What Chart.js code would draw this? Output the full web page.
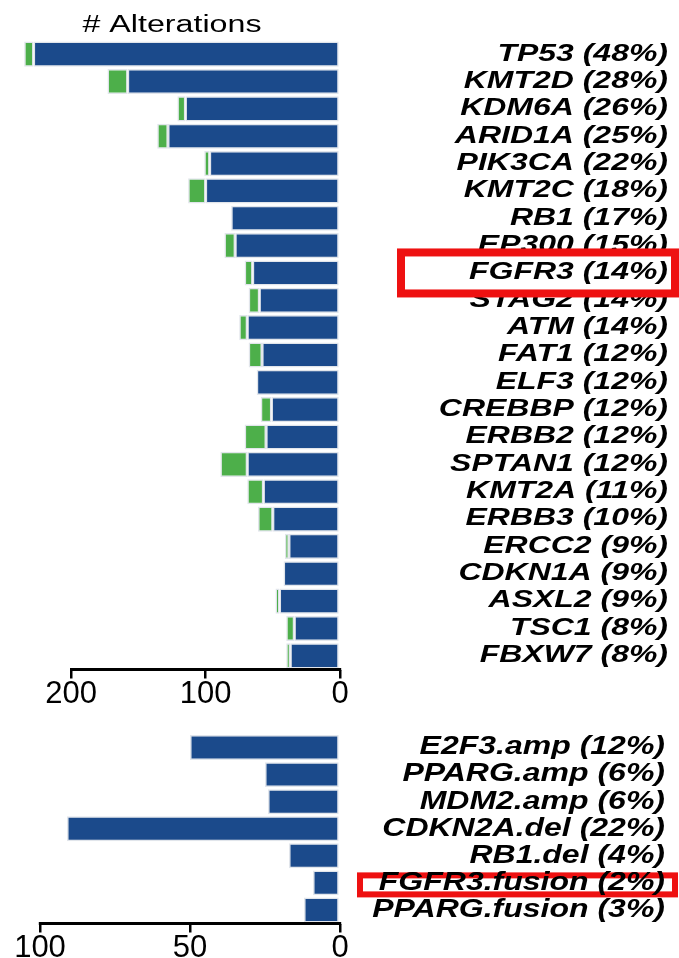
<!DOCTYPE html>
<html>
<head>
<meta charset="utf-8">
<script src="https://cdn.jsdelivr.net/npm/chart.js@4"></script>
<style>
  body { margin: 0; background: #fff; }
  #wrap { position: relative; width: 679px; height: 958px; }
  canvas { position: absolute; left: 0; }
  #top { top: 0; }
  #bottom { top: 700px; }
</style>
</head>
<body>
<div id="wrap">
  <canvas id="top" width="679" height="710"></canvas>
  <canvas id="bottom" width="679" height="258"></canvas>
</div>
<script>
// mutated genes: main (blue) and additional (green) alteration counts
const genes = ['TP53', 'KMT2D', 'KDM6A', 'ARID1A', 'PIK3CA', 'KMT2C', 'RB1', 'EP300', 'FGFR3', 'STAG2',
  'ATM', 'FAT1', 'ELF3', 'CREBBP', 'ERBB2', 'SPTAN1', 'KMT2A', 'ERBB3', 'ERCC2', 'CDKN1A', 'ASXL2', 'TSC1', 'FBXW7'];
const genePct = [48, 28, 26, 25, 22, 18, 17, 15, 14, 14, 14, 12, 12, 12, 12, 12, 11, 10, 9, 9, 9, 8, 8];
const geneMain = [228, 158, 115, 128, 97, 100, 81, 78, 65, 60, 69, 58, 62, 51, 55, 69, 57, 50, 38, 42, 45, 34, 37];
const geneOther = [7, 15, 6, 8, 4, 13, 0, 8, 6, 8, 6, 10, 0, 8, 16, 20, 12, 11, 3, 0, 3, 6, 3];
const geneTicks = [0, 100, 200];

// copy number / fusion events
const events = ['E2F3.amp', 'PPARG.amp', 'MDM2.amp', 'CDKN2A.del', 'RB1.del', 'FGFR3.fusion', 'PPARG.fusion'];
const eventPct = [12, 6, 6, 22, 4, 2, 3];
const eventCounts = [50, 25, 24, 91, 17, 9, 12];
const eventTicks = [0, 50, 100];

const BLUE = '#1b4a8b';
const GREEN = '#4daf4a';
const EDGE = '#e1e5eb';
const FONT = '"Liberation Sans", Arial, Helvetica, sans-serif';

function sideLabels(o) {
    return {
        id: 'sideLabels',
        afterDraw(chart) {
            const ctx = chart.ctx;
            const xs = chart.scales.x;
            const ys = chart.scales.y;

            // axis line only over the ticked range
            const a0 = xs.getPixelForValue(o.ticks[0]);
            const a1 = xs.getPixelForValue(o.ticks[o.ticks.length - 1]);
            ctx.save();
            ctx.strokeStyle = '#000';
            ctx.lineWidth = 3;
            ctx.beginPath();
            ctx.moveTo(a1 - 1.2, xs.top);
            ctx.lineTo(a0 + 1.2, xs.top);
            ctx.stroke();

            const drawLabel = (i) => {
                const y = ys.getPixelForValue(i);
                ctx.save();
                ctx.translate(o.right, y);
                ctx.scale(o.stretch, 1);
                ctx.font = 'italic bold ' + o.size + 'px ' + FONT;
                ctx.fillStyle = '#000';
                ctx.textAlign = 'right';
                ctx.textBaseline = 'middle';
                ctx.fillText(o.names[i] + ' (' + o.pct[i] + '%)', 0, 0);
                ctx.restore();
            };
            o.names.forEach((n, i) => drawLabel(i));

            // highlight box
            const hi = o.names.indexOf(o.highlight);
            const cy = ys.getPixelForValue(hi) + o.box.dy;
            ctx.fillStyle = '#fff';
            ctx.fillRect(o.box.x0, cy - o.box.h / 2, o.box.x1 - o.box.x0, o.box.h);
            ctx.strokeStyle = '#ee1111';
            ctx.lineWidth = o.box.lw;
            ctx.strokeRect(o.box.x0, cy - o.box.h / 2, o.box.x1 - o.box.x0, o.box.h);
            drawLabel(hi);

            if (o.title) {
                ctx.save();
                ctx.translate(o.title.x, o.title.y);
                ctx.scale(1.4, 1);
                ctx.font = '23px ' + FONT;
                ctx.fillStyle = '#000';
                ctx.textAlign = 'center';
                ctx.textBaseline = 'alphabetic';
                ctx.fillText(o.title.text, 0, 0);
                ctx.restore();
            }
            ctx.restore();
        }
    };
}

function barSet(values, color) {
    return {
        data: values,
        backgroundColor: color,
        borderColor: EDGE,
        borderWidth: 1.5,
        borderSkipped: false,
        barPercentage: 0.92,
        categoryPercentage: 1
    };
}

function panel(id, names, datasets, ticks, xMax, padding, axisH, labelOpts) {
    new Chart(document.getElementById(id), {
        type: 'bar',
        data: { labels: names, datasets: datasets },
        options: {
            indexAxis: 'y',
            responsive: false,
            animation: false,
            devicePixelRatio: 1,
            layout: { padding: padding },
            plugins: { legend: { display: false }, tooltip: { enabled: false } },
            scales: {
                x: {
                    stacked: true,
                    reverse: true,
                    min: 0,
                    max: xMax,
                    position: 'bottom',
                    afterFit: (s) => { s.height = axisH; },
                    afterBuildTicks: (s) => { s.ticks = ticks.map(v => ({ value: v })); },
                    grid: { drawOnChartArea: false, tickLength: 9, color: '#000', lineWidth: 2.5 },
                    border: { display: false },
                    ticks: {
                        color: '#000',
                        font: { family: FONT, size: 31, lineHeight: 1 },
                        padding: 0,
                        maxRotation: 0,
                        autoSkip: false
                    }
                },
                y: { stacked: true, display: false, grid: { display: false } }
            }
        },
        plugins: [sideLabels(labelOpts)]
    });
}

panel('top', genes, [barSet(geneMain, BLUE), barSet(geneOther, GREEN)], geneTicks, 250,
    { top: 40.5, left: 4, right: 339, bottom: 0.5 }, 40,
    { names: genes, pct: genePct, ticks: geneTicks, right: 668, size: 23, stretch: 1.39,
      highlight: 'FGFR3', box: { x0: 401, x1: 675, h: 41, dy: 0, lw: 8 },
      title: { text: '# Alterations', x: 172, y: 32 } });

panel('bottom', events, [barSet(eventCounts, BLUE)], eventTicks, 100,
    { top: 34, left: 40, right: 339, bottom: 0.5 }, 34,
    { names: events, pct: eventPct, ticks: eventTicks, right: 665, size: 25, stretch: 1.28,
      highlight: 'FGFR3.fusion', box: { x0: 360, x1: 675, h: 19, dy: 2, lw: 6 } });
</script>
</body>
</html>
